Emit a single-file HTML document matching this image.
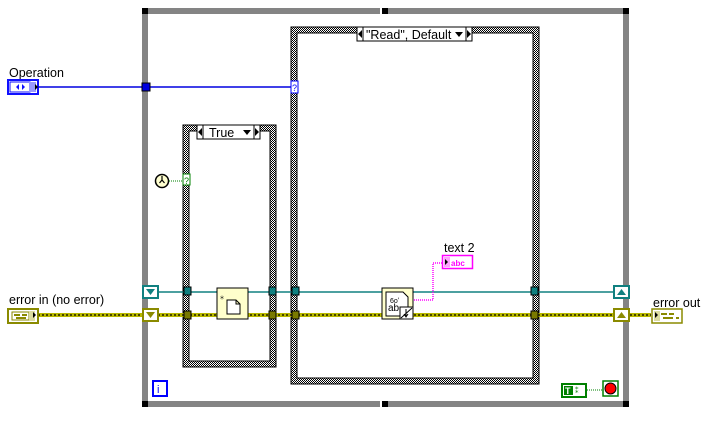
<!DOCTYPE html>
<html><head><style>
html,body{margin:0;padding:0;background:#fff;width:714px;height:426px;overflow:hidden}
svg text{font-family:"Liberation Sans",sans-serif}
</style></head><body>
<svg width="714" height="426" viewBox="0 0 714 426" xmlns="http://www.w3.org/2000/svg">
<defs>
<pattern id="chk" width="2" height="2" patternUnits="userSpaceOnUse">
<rect width="2" height="2" fill="#fff"/><rect width="1" height="1" fill="#000"/><rect x="1" y="1" width="1" height="1" fill="#000"/>
</pattern>
</defs>
<rect x="142" y="8" width="487" height="6" fill="#848484"/>
<rect x="142" y="401" width="487" height="6" fill="#848484"/>
<rect x="142" y="8" width="6" height="399" fill="#848484"/>
<rect x="623" y="8" width="6" height="399" fill="#848484"/>
<rect x="142" y="8" width="6" height="6" fill="#000"/>
<rect x="623" y="8" width="6" height="6" fill="#000"/>
<rect x="142" y="401" width="6" height="6" fill="#000"/>
<rect x="623" y="401" width="6" height="6" fill="#000"/>
<rect x="382" y="8" width="6" height="6" fill="#000"/>
<rect x="382" y="401" width="6" height="6" fill="#000"/>
<rect x="380" y="8" width="2" height="6" fill="#fff"/>
<rect x="380" y="401" width="2" height="6" fill="#fff"/>

<rect x="183" y="125" width="93" height="242" fill="url(#chk)" stroke="#000" stroke-width="1"/>
<rect x="189" y="131" width="81" height="230" fill="#fff" stroke="#000" stroke-width="1"/>
<rect x="197" y="125" width="63" height="14" fill="#fff" stroke="#000"/>
<line x1="203" y1="125" x2="203" y2="139" stroke="#000"/>
<line x1="254" y1="125" x2="254" y2="139" stroke="#000"/>
<polygon points="202,128 202,136 198,132" fill="#000"/>
<polygon points="255,128 255,136 259,132" fill="#000"/>
<polygon points="243,130 251,130 247,135" fill="#000"/>
<text x="209" y="137" font-size="12.5">True</text>

<rect x="291" y="27" width="248" height="357" fill="url(#chk)" stroke="#000"/>
<rect x="297" y="33" width="236" height="345" fill="#fff" stroke="#000"/>
<rect x="357" y="27" width="115" height="14" fill="#fff" stroke="#000"/>
<line x1="363" y1="27" x2="363" y2="41" stroke="#000"/>
<line x1="466" y1="27" x2="466" y2="41" stroke="#000"/>
<polygon points="362,30 362,38 358,34" fill="#000"/>
<polygon points="467,30 467,38 471,34" fill="#000"/>
<polygon points="455,32 463,32 459,37" fill="#000"/>
<text x="366" y="39" font-size="12.5">"Read", Default</text>

<text x="9" y="77" font-size="12.5">Operation</text>
<rect x="8" y="80" width="30" height="14" fill="#fff" stroke="#1010ff" stroke-width="2"/>
<rect x="10" y="82" width="20" height="10" fill="#fff" stroke="#1010ff"/>
<rect x="29" y="82" width="7" height="10" fill="#9a9aff"/>
<polygon points="19,84 19,90 16,87" fill="#1010ff"/><polygon points="22,84 22,90 25,87" fill="#1010ff"/>
<polygon points="35,84 35,90 38,87" fill="#000"/>
<line x1="38" y1="87" x2="291" y2="87" stroke="#0000e0" stroke-width="1.5"/>
<rect x="142" y="83" width="8" height="8" fill="#0000e0" stroke="#000" stroke-width="1"/>
<rect x="291" y="81" width="7" height="12" fill="#fff" stroke="#0000ff"/>
<text x="292" y="91" font-size="9" fill="#0000ff">?</text>

<circle cx="162" cy="181" r="6.5" fill="#ffffd0" stroke="#000" stroke-width="1.5"/>
<path d="M162 176v4l-2.5 3M162 180l2.5 3" stroke="#000" stroke-width="1.2" fill="none"/>
<line x1="169" y1="181" x2="183" y2="181" stroke="#008000" stroke-dasharray="1,1"/>
<rect x="183" y="174" width="7" height="11" fill="#fff" stroke="#008000"/>
<text x="184" y="184" font-size="9" fill="#008000">?</text>

<line x1="158" y1="292" x2="613" y2="292" stroke="#108080" stroke-width="1.5"/>
<line x1="38" y1="315" x2="651" y2="315" stroke="#b8b800" stroke-width="4"/>
<line x1="38" y1="315" x2="651" y2="315" stroke="#000" stroke-width="1.2" stroke-dasharray="2,2"/>

<rect x="143" y="286" width="15" height="12" fill="#fff" stroke="#108080" stroke-width="2"/>
<polygon points="146,289 155,289 150.5,295" fill="#108080"/>
<rect x="143" y="309" width="15" height="12" fill="#fff" stroke="#8a8a00" stroke-width="2"/>
<polygon points="146,312 155,312 150.5,318" fill="#8a8a00"/>
<rect x="614" y="286" width="15" height="12" fill="#fff" stroke="#108080" stroke-width="2"/>
<polygon points="617,295 626,295 621.5,289" fill="#108080"/>
<rect x="614" y="309" width="15" height="12" fill="#fff" stroke="#8a8a00" stroke-width="2"/>
<polygon points="617,318 626,318 621.5,312" fill="#8a8a00"/>

<g stroke="#000" stroke-width="1">
<rect x="184" y="287" width="7" height="8" fill="#108080"/>
<rect x="269" y="287" width="7" height="8" fill="#108080"/>
<rect x="292" y="287" width="7" height="8" fill="#108080"/>
<rect x="531" y="287" width="7" height="8" fill="#108080"/>
<rect x="184" y="311" width="7" height="8" fill="#7a7a00"/>
<rect x="269" y="311" width="7" height="8" fill="#7a7a00"/>
<rect x="292" y="311" width="7" height="8" fill="#7a7a00"/>
<rect x="531" y="311" width="7" height="8" fill="#7a7a00"/>
</g>

<rect x="217" y="288" width="31" height="31" fill="#ffffcc" stroke="#000"/>
<path d="M227 300h9l4 4v10h-13z M236 300v4h4" fill="#fff" stroke="#000"/>
<text x="220" y="299" font-size="8">⁎</text>

<rect x="382" y="288" width="31" height="31" fill="#ffffcc" stroke="#000"/>
<path d="M386 292h17l5 5v19h-22z" fill="#fff" stroke="#000"/>
<text x="388" y="311" font-size="10">ab</text>
<text x="390" y="303" font-size="7">6oʻ</text>
<rect x="400" y="307" width="13" height="12" fill="#fff" stroke="#000"/>
<path d="M401 318l11-10M406 309v7M404 314l2 3 2-3" stroke="#000" fill="none"/>
<path d="M414 300h19v-37h9" stroke="#ff00ff" stroke-width="1.5" stroke-dasharray="1,1" fill="none"/>

<text x="444" y="252" font-size="12.5">text 2</text>
<rect x="442.5" y="255.5" width="30" height="13" fill="#fff" stroke="#ff00ff" stroke-width="1.5"/>
<rect x="444" y="257" width="6" height="10" fill="#ffa0ff"/>
<polygon points="445,259 445,265 448,262" fill="#000"/>
<text x="451" y="266" font-size="8" font-weight="bold" fill="#ff00ff">abc</text>

<text x="9" y="304" font-size="12.5">error in (no error)</text>
<rect x="8" y="309" width="30" height="14" fill="#fff" stroke="#8a8a00" stroke-width="2"/>
<rect x="12" y="312" width="17" height="8" fill="#fff" stroke="#8a8a00"/>
<rect x="14" y="314" width="6" height="2" fill="#8a8a00"/><rect x="22" y="314" width="5" height="2" fill="#8a8a00"/><rect x="16" y="317" width="10" height="2" fill="#8a8a00"/>
<rect x="29" y="311" width="6" height="10" fill="#dcdca0"/>
<polygon points="33,312 33,318 36,315" fill="#000"/>

<text x="653" y="307" font-size="12.5">error out</text>
<rect x="652" y="309" width="30" height="14" fill="#fff" stroke="#8a8a00" stroke-width="1.5"/>
<rect x="654" y="311" width="6" height="10" fill="#dcdca0"/>
<polygon points="655,312 655,318 658,315" fill="#000"/>
<rect x="661" y="313" width="6" height="2" fill="#8a8a00"/><rect x="669" y="313" width="5" height="2" fill="#8a8a00"/><rect x="663" y="317" width="10" height="2" fill="#8a8a00"/><rect x="676" y="317" width="3" height="2" fill="#8a8a00"/>

<rect x="153" y="381" width="14" height="15" fill="#fff" stroke="#0000ff" stroke-width="2"/>
<text x="157" y="393" font-size="11" fill="#0000ff">i</text>

<rect x="562" y="384" width="24" height="13" fill="#fff" stroke="#008000" stroke-width="2"/>
<rect x="564" y="386" width="9" height="9" fill="#008000"/>
<text x="565" y="394" font-size="9" font-weight="bold" fill="#fff">T</text>
<text x="575" y="393" font-size="7" fill="#008000">⁑</text>
<line x1="587" y1="390" x2="603" y2="390" stroke="#008000" stroke-dasharray="1,1"/>
<rect x="603" y="381" width="15" height="15" fill="#fff" stroke="#008000" stroke-width="1.5"/>
<circle cx="610.5" cy="388.5" r="5.5" fill="#ff0000" stroke="#000"/>
</svg>
</body></html>
